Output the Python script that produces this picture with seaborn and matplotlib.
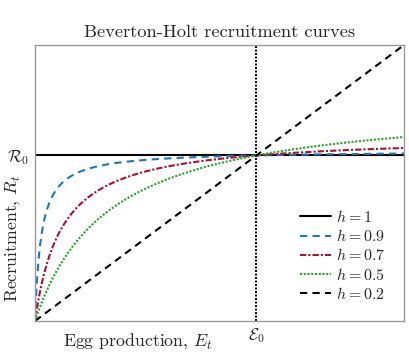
import numpy as np
import pandas as pd
import seaborn as sns
import matplotlib.pyplot as plt

# Beverton-Holt steepness values and reference levels
steepness = [1, 0.9, 0.7, 0.5, 0.2]
labels = ["$h = 1$", "$h = 0.9$", "$h = 0.7$", "$h = 0.5$", "$h = 0.2$"]
colors = ["black", "#1f77b4", "#a2142f", "#2ca02c", "black"]
styles = ["-", (0, (3.5, 2.5)), (0, (3, 1, 1, 1)), (0, (1, 0.8)), (0, (3.5, 2.5))]
R0 = 1.0
E0 = 1.0
x_max = 1 / 0.6

sns.set_theme(style="white")
plt.rcParams["font.family"] = ["serif"]
plt.rcParams["font.serif"] = ["cmr10", "DejaVu Serif"]
plt.rcParams["mathtext.fontset"] = "cm"
plt.rcParams["axes.unicode_minus"] = False
plt.rcParams["axes.formatter.use_mathtext"] = True

eggs = np.linspace(0, x_max, 500)
frames = []
for h, lab in zip(steepness, labels):
    rec = 4 * h * R0 * eggs / (E0 * (1 - h) + eggs * (5 * h - 1))
    frames.append(pd.DataFrame({"E": eggs, "R": rec, "h": lab}))
df = pd.concat(frames)

fig, ax = plt.subplots(figsize=(4.09, 3.54), dpi=100)
ax.axvline(E0, color="black", ls=(0, (1, 0.8)), lw=1.4)
for lab, c, ls in zip(labels, colors, styles):
    sub = df[df["h"] == lab]
    sns.lineplot(data=sub, x="E", y="R", ax=ax, color=c, label=lab, lw=1.5)
    ax.lines[-1].set_linestyle(ls)

ax.set_xlim(0, x_max)
ax.set_ylim(0, x_max)
ax.set_xticks([E0])
ax.set_xticklabels([r"$\mathcal{E}_0$"], fontsize=12)
ax.set_yticks([R0])
ax.set_yticklabels([r"$\mathcal{R}_0$"], fontsize=12)
ax.tick_params(length=0, pad=4)
for sp in ax.spines.values():
    sp.set_color("#999999")
    sp.set_linewidth(1.0)

ax.set_title("Beverton-Holt recruitment curves", fontsize=13.3, pad=6)
ax.set_xlabel("Egg production, $E_t$", fontsize=12.8)
ax.set_ylabel("Recruitment, $R_t$", fontsize=12.8)
ax.xaxis.set_label_coords(0.28, -0.035)
ax.yaxis.set_label_coords(-0.035, 0.30)

ax.legend(loc="lower right", frameon=False, fontsize=11.5, handlelength=1.9,
          handletextpad=0.3, labelspacing=0.2, borderaxespad=0.8)

fig.subplots_adjust(left=35 / 409, right=404 / 409, top=1 - 45 / 354, bottom=1 - 321 / 354)
fig.savefig("out.png", dpi=100)
